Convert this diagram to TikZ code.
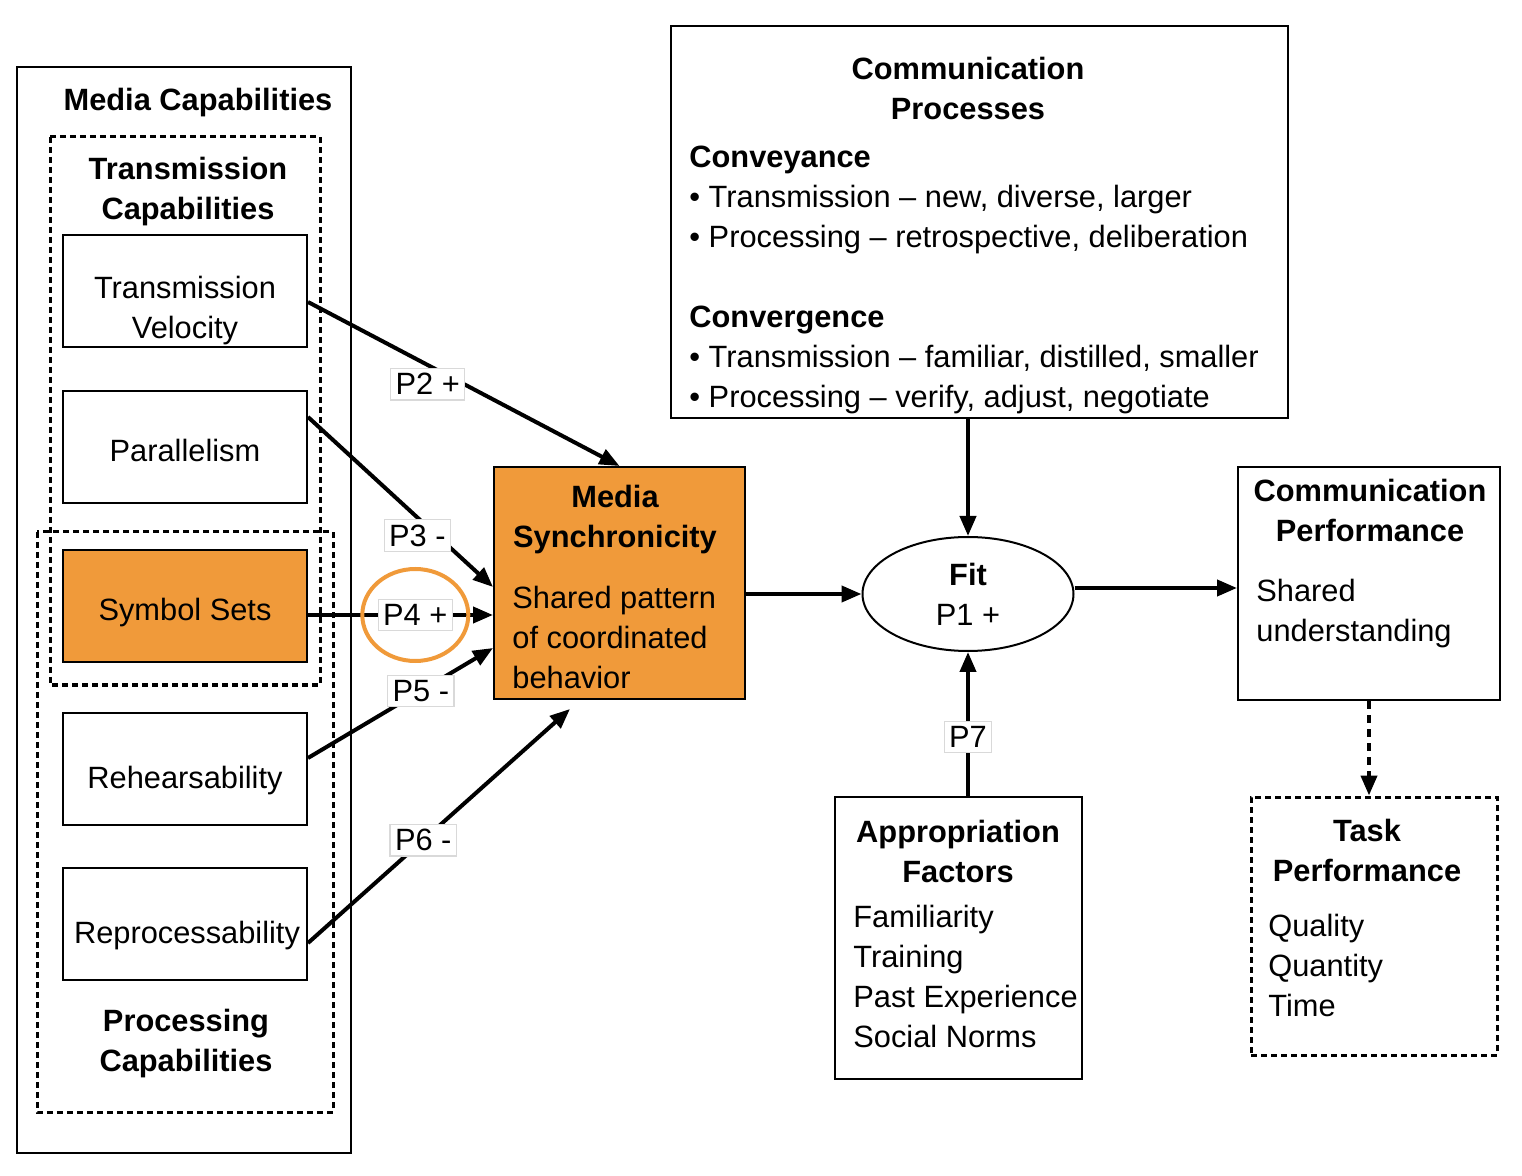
\documentclass[tikz,border=0pt]{standalone}
\usepackage{fontspec}
\setmainfont{Liberation Sans}
\usetikzlibrary{arrows.meta,shapes.geometric}
\definecolor{synorange}{RGB}{240,154,58}
\newcommand{\diagfont}{\fontsize{15.4}{20}\selectfont}
\tikzset{
  box/.style={draw, line width=1pt, minimum width=122pt, minimum height=56pt},
  boxtext/.style={align=center, inner sep=0pt},
  bigbox/.style={draw, line width=1pt},
  dashbox/.style={draw, line width=1.5pt, dash pattern=on 3pt off 2pt},
  ttl/.style={font=\diagfont\bfseries, align=center, inner sep=0pt},
  body/.style={align=left, inner sep=0pt, anchor=west},
  link/.style={line width=2pt, -{Triangle[length=10pt,width=8pt]}},
  plabel/.style={fill=white, draw=black!15, line width=0.6pt, inner sep=2.5pt},
}
\begin{document}
\begin{tikzpicture}[x=0.5pt, y=-0.5pt, font=\diagfont]
\useasboundingbox (0,0) rectangle (1522,1176);

% Media capabilities (left column)
\draw[line width=1.2pt] (17,67) rectangle (351,1153);
\draw[dashbox] (50,137) rectangle (320,685);
\draw[dashbox] (37,532) rectangle (333,1112);
\node[ttl] (mctitle) at (198,103) {Media Capabilities};
\node[ttl] (tctitle) at (188,192) {Transmission\\Capabilities};
\node[ttl] (pctitle) at (186,1044) {Processing\\Capabilities};

\node[box] (tv) at (185,291) {};
\node[boxtext] (tvtext) at (185,311) {Transmission\\Velocity};
\node[box] (par) at (185,447) {};
\node[boxtext] (partext) at (185,450) {Parallelism};
\node[box, fill=synorange] (ss) at (185,606) {};
\node[boxtext] (sstext) at (185,613) {Symbol Sets};
\node[box] (reh) at (185,769) {};
\node[boxtext] (rehtext) at (185,781) {Rehearsability};
\node[box] (rep) at (185,924) {};
\node[boxtext] (reptext) at (187,936) {Reprocessability};

% Media synchronicity
\node[bigbox, fill=synorange, minimum width=125.5pt, minimum height=116pt] (ms) at (619.5,583) {};
\node[ttl] (mstitle) at (615,520) {Media\\Synchronicity};
\node[body] (msbody) at (512,637) {Shared pattern\\of coordinated\\behavior};

% Communication processes
\node[bigbox, minimum width=308.5pt, minimum height=196pt] (cproc) at (979.5,222) {};
\node[ttl] (cproctitle) at (968,88) {Communication\\Processes};
\node[body] (cprocbody) at (689,280) {{\bfseries Conveyance}\\
  • Transmission – new, diverse, larger\\
  • Processing – retrospective, deliberation\\[20pt]
  {\bfseries Convergence}\\
  • Transmission – familiar, distilled, smaller\\
  • Processing – verify, adjust, negotiate};

% Fit
\node[draw, ellipse, line width=1pt, minimum width=105.5pt, minimum height=57pt, inner sep=0pt, align=center] (fit) at (968,594) {{\bfseries Fit}\\P1 +};

% Communication performance
\node[bigbox, minimum width=131pt, minimum height=116.5pt] (cp) at (1369,583.5) {};
\node[ttl] (cptitle) at (1370,510) {Communication\\Performance};
\node[body] (cpbody) at (1256,614) {Shared\\understanding};

% Task performance
\node[dashbox, minimum width=123pt, minimum height=129pt] (tp) at (1374,926) {};
\node[ttl] (tptitle) at (1367,850) {Task\\Performance};
\node[body] (tpbody) at (1268,965) {Quality\\Quantity\\Time};

% Appropriation factors
\node[bigbox, minimum width=123.5pt, minimum height=141pt] (af) at (958.5,938) {};
\node[ttl] (aftitle) at (958,851) {Appropriation\\Factors};
\node[body] (afbody) at (853,976) {Familiarity\\Training\\Past Experience\\Social Norms};

% Propositions
\draw[link] ([yshift=-5.5pt]tv.east) -- node[plabel, pos=.41, xshift=-4pt, yshift=-7.5pt] (p2) {P2 +} (ms.north);
\draw[link] ([yshift=15pt]par.east) -- node[plabel, pos=.64, xshift=-4.5pt, yshift=-5pt] (p3) {P3 -} ([yshift=-2pt]ms.west);
\draw[link] ([yshift=-4.5pt]ss.east) -- node[plabel, pos=.58] (p4) {P4 +} ([yshift=-16pt]ms.west);
\draw[link] ([yshift=5.5pt]reh.east) -- node[plabel, pos=.61] (p5) {P5 -} ([yshift=-32.5pt]ms.west);
\draw[link] ([yshift=-9.5pt]rep.east) -- node[plabel, pos=.44] (p6) {P6 -} ([xshift=-24.75pt, yshift=-4.5pt]ms.south);
\draw[synorange, line width=2pt] (p4.center) ellipse (26.5pt and 23pt);

\draw[link] (ms.east |- fit.west) -- (fit.west);
\draw[link] (fit.north |- cproc.south) -- (fit.north);
\draw[link] (fit.south |- af.north) -- node[plabel, pos=.41] (p7) {P7} (fit.south);
\draw[link] ([yshift=3pt]fit.east) -- ([yshift=3pt]fit.east -| cp.west);
\draw[link, dash pattern=on 4pt off 3pt] (cp.south) -- (cp.south |- tp.north);

\end{tikzpicture}
\end{document}
